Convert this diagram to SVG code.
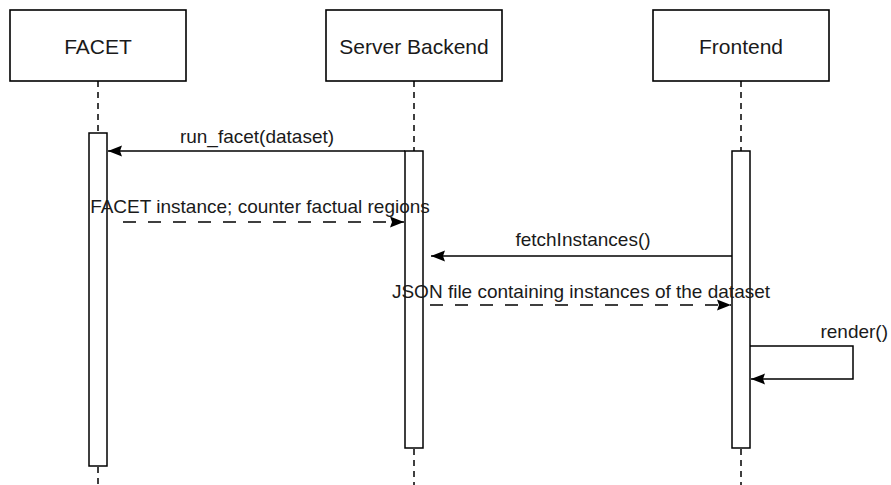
<svg xmlns="http://www.w3.org/2000/svg" width="891" height="485" viewBox="0 0 891 485">
  <style>
    .box { fill: #ffffff; stroke: #000000; stroke-width: 1.6; }
    .life { stroke: #000000; stroke-width: 1.5; stroke-dasharray: 6 5; fill: none; }
    .act { fill: #ffffff; stroke: #000000; stroke-width: 1.5; }
    .msg { stroke: #000000; stroke-width: 1.5; fill: none; }
    .ret { stroke: #000000; stroke-width: 1.5; fill: none; stroke-dasharray: 13 12; }
    .title { font-family: "Liberation Sans", Arial, sans-serif; font-size: 21px; fill: #1a1a1a; text-anchor: middle; }
    .lbl { font-family: "Liberation Sans", Arial, sans-serif; font-size: 19px; fill: #1a1a1a; text-anchor: middle; }
  </style>
  <defs>
    <marker id="arrow" viewBox="0 0 14 12" refX="14" refY="6" markerWidth="14" markerHeight="12" markerUnits="userSpaceOnUse" orient="auto">
      <path d="M0,0.5 L14,6 L0,11.5 L2,6 Z" fill="#000000"/>
    </marker>
  </defs>
  <rect width="891" height="485" fill="#ffffff"/>

  <!-- participant: FACET -->
  <g id="facet">
    <rect class="box" x="10" y="10" width="176" height="71"/>
    <text class="title" x="98" y="54">FACET</text>
    <line class="life" x1="98" y1="81" x2="98" y2="133"/>
    <line class="life" x1="98" y1="467" x2="98" y2="485"/>
    <rect class="act" x="89" y="133" width="18" height="333"/>
  </g>

  <!-- participant: Server Backend -->
  <g id="server-backend">
    <rect class="box" x="326" y="10" width="176" height="71"/>
    <text class="title" x="414" y="54">Server Backend</text>
    <line class="life" x1="414" y1="81" x2="414" y2="151"/>
    <line class="life" x1="414" y1="449" x2="414" y2="485"/>
    <rect class="act" x="405" y="151" width="18" height="297"/>
  </g>

  <!-- participant: Frontend -->
  <g id="frontend">
    <rect class="box" x="653" y="10" width="176" height="71"/>
    <text class="title" x="741" y="54">Frontend</text>
    <line class="life" x1="741" y1="81" x2="741" y2="151"/>
    <line class="life" x1="741" y1="449" x2="741" y2="485"/>
    <rect class="act" x="732" y="151" width="18" height="297"/>
  </g>

  <!-- messages -->
  <g id="connectors">
    <line class="msg" x1="405" y1="151" x2="108" y2="151" marker-end="url(#arrow)"/>
    <text class="lbl" x="257" y="143">run_facet(dataset)</text>

    <line class="ret" x1="123" y1="222" x2="404" y2="222" marker-end="url(#arrow)"/>
    <text class="lbl" x="260" y="213">FACET instance; counter factual regions</text>

    <line class="msg" x1="732" y1="256" x2="431" y2="256" marker-end="url(#arrow)"/>
    <text class="lbl" x="583" y="246">fetchInstances()</text>

    <line class="ret" x1="430" y1="305" x2="731" y2="305" marker-end="url(#arrow)"/>
    <text class="lbl" x="581" y="298">JSON file containing instances of the dataset</text>

    <polyline class="msg" points="750,346 853,346 853,379 751,379" marker-end="url(#arrow)"/>
    <text class="lbl" x="888" y="338" style="text-anchor:end">render()</text>
  </g>
</svg>
